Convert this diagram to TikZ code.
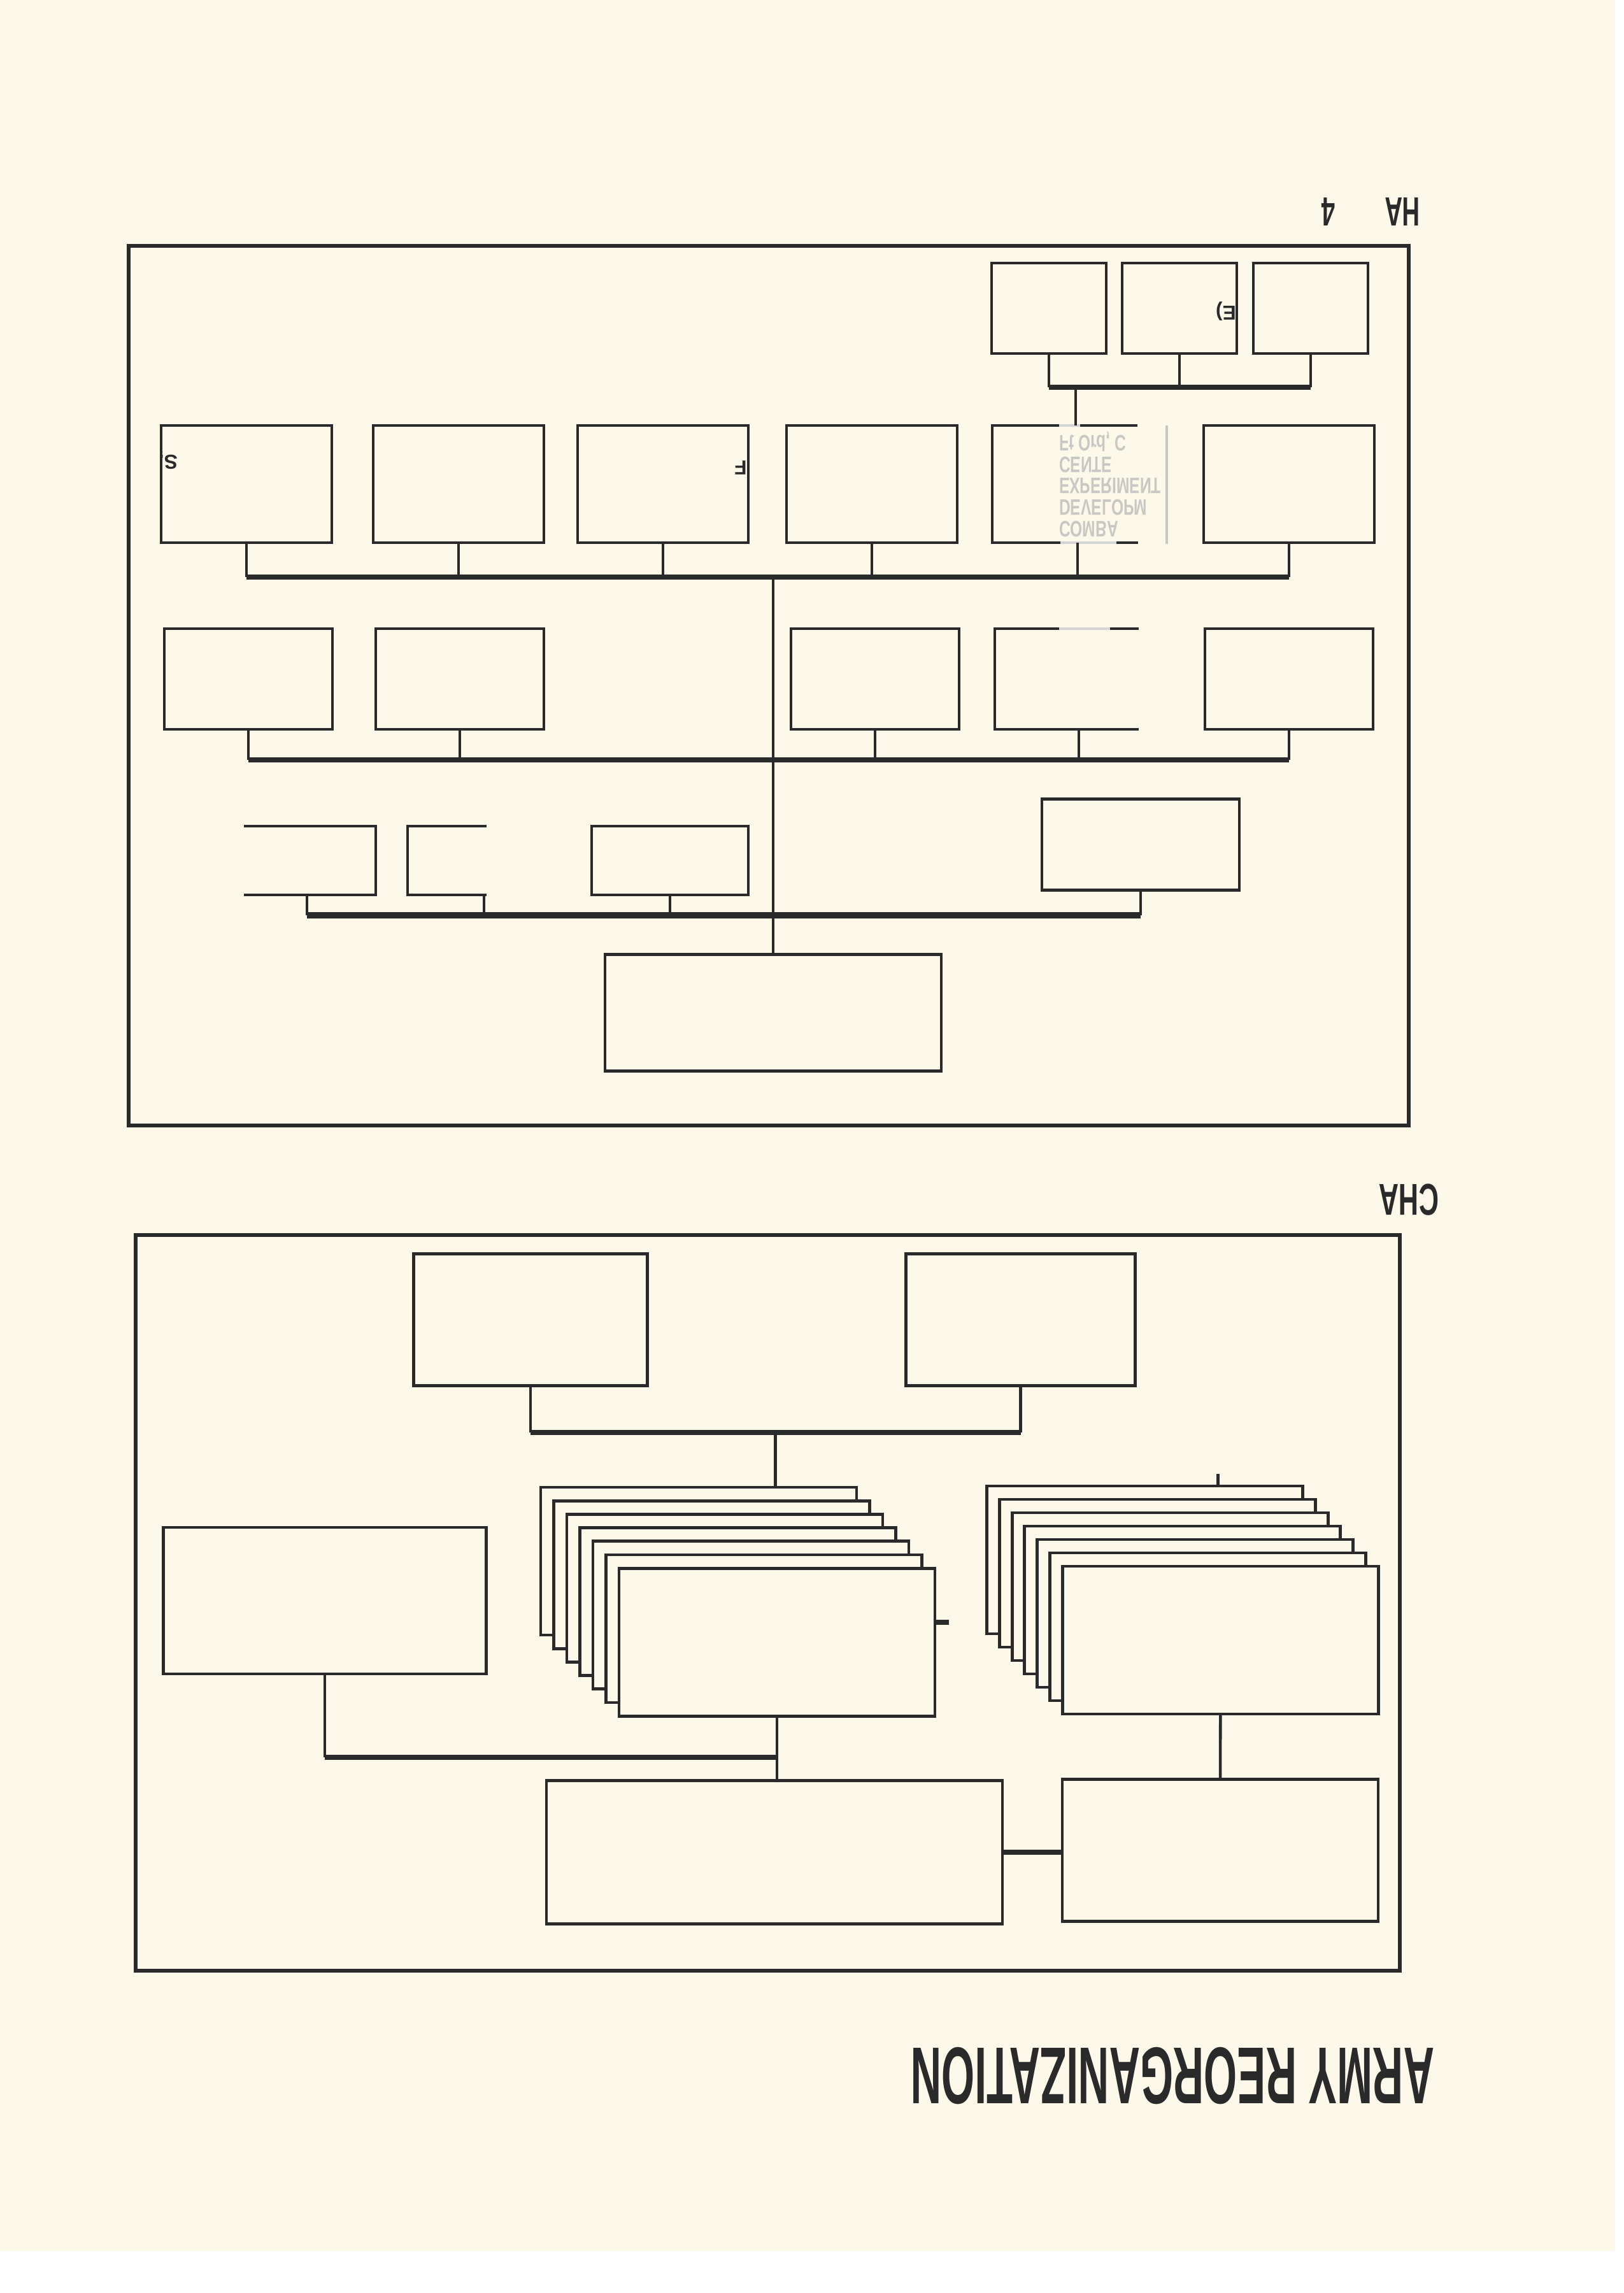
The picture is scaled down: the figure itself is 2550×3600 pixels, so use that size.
\documentclass[tikz,border=0pt]{standalone}
\usepackage{fontspec}
\setmainfont{Liberation Sans}
\usetikzlibrary{positioning,calc}
\definecolor{paper}{HTML}{FCF9EB}
\definecolor{ink}{HTML}{2A2A2A}
\definecolor{stampgrey}{HTML}{C9C9C4}

\begin{document}
\begin{tikzpicture}[x=0.1mm, y=-0.1mm,
  box/.style={draw=ink, line width=1.4pt, fill=paper, inner sep=0pt, outer sep=0pt},
  hidden/.style={inner sep=0pt, outer sep=0pt},
  rowa/.style={minimum width=18mm, minimum height=14.2mm},
  rowb/.style={minimum width=26.8mm, minimum height=18.4mm},
  rowc/.style={minimum width=26.4mm, minimum height=15.8mm},
  rowd/.style={minimum height=10.8mm},
  stackbox/.style={box, minimum width=49.6mm, minimum height=23.2mm},
  link/.style={ink, line width=1.3pt},
  bus/.style={ink, line width=2.4pt},
  frame/.style={draw=ink, line width=1.7pt},
  rim/.style={ink, line width=1.4pt},
  faint/.style={ink!20, line width=1.2pt},
  title/.style={text=ink, inner sep=0pt, rotate=180},
  scrap/.style={title, font=\bfseries\fontsize{9}{9}\selectfont}]

\fill[white] (0,0) rectangle (2550,3600);
\fill[paper] (0,0) rectangle (2536,3534);
\useasboundingbox (0,0) rectangle (2550,3600);

% upper chart
\draw[frame] (202,386) rectangle (2212,1767);
\node[title, xscale=0.6, font=\bfseries\fontsize{18.2}{18.2}\selectfont] (hdA) at (2202,333) {HA};
\node[title, xscale=0.6, font=\bfseries\fontsize{18.2}{18.2}\selectfont] (hdB) at (2086,333) {4};

\node[box, rowa] (a1) at (1647,484) {};
\node[box, rowa, right=2.5mm of a1] (a2) {};
\node[box, rowa, right=2.6mm of a2] (a3) {};
\node[scrap] (a2note) at (1925,489) {E)};
\coordinate (busA) at (0,608);
\draw[link] (a1.south) -- (a1.south |- busA);
\draw[link] (a2.south) -- (a2.south |- busA);
\draw[link] (a3.south) -- (a3.south |- busA);
\draw[bus] (a1.south |- busA) -- (a3.south |- busA);

\node[box, rowb] (b1) at (387,760) {};
\node[box, rowb, right=6.5mm of b1] (b2) {};
\node[box, rowb, right=5.3mm of b2] (b3) {};
\node[box, rowb, right=6.0mm of b3] (b4) {};
\node[hidden, rowb, right=5.5mm of b4] (b5) {};
\node[box, rowb, right=6.4mm of b5] (b6) {};
\draw[rim] ([xshift=10.5mm]b5.north west) -- (b5.north west) -- (b5.south west) -- ([xshift=10.7mm]b5.south west);
\draw[rim] ([xshift=13.8mm]b5.north west) -- ([xshift=22.8mm]b5.north west);
\draw[rim] ([xshift=19.5mm]b5.south west) -- ([xshift=22.9mm]b5.south west);
\draw[faint] ([xshift=10.5mm]b5.north west) -- ([xshift=13.8mm]b5.north west);
\draw[faint] ([xshift=10.7mm]b5.south west) -- ([xshift=19.5mm]b5.south west);
\node[scrap] (b1note) at (264,723) {S,};
\node[scrap] (b3note) at (1163,734) {F};

% show-through stamp
\coordinate (stampNE) at (1832,668);
\coordinate (stampSE) at (1832,854);
\draw[stampgrey, line width=1pt] (stampNE) -- (stampSE);
\node[hidden, text=stampgrey, anchor=north west, yscale=-1, xscale=0.7, align=left,
  font=\bfseries\fontsize{10}{9.6}\selectfont] (stamp) at (1663,843)
  {COMBA\\DEVELOPM\\EXPERIMENT\\CENTE\\Ft Ord, C};

\draw[link] (a1.south |- busA) ++(42,0) coordinate (dropA) -- (dropA |- b5.north);

\coordinate (busB) at (0,906);
\foreach \n in {b1,b2,b3,b4,b6} \draw[link] (\n.south) -- (\n.south |- busB);
\draw[link] (b5.south) -- (b5.south |- busB);
\draw[bus] (b1.south |- busB) -- (b6.south |- busB);

\node[box, rowc] (c1) at (390,1066) {};
\node[box, rowc, right=6.8mm of c1] (c2) {};
\node[box, rowc, right=38.8mm of c2] (c3) {};
\node[hidden, rowc, right=5.6mm of c3] (c4) {};
\node[box, rowc, right=6.6mm of c4] (c5) {};
\draw[rim] ([xshift=10.1mm]c4.north west) -- (c4.north west) -- (c4.south west) -- ([xshift=22.6mm]c4.south west);
\draw[rim] ([xshift=18.1mm]c4.north west) -- ([xshift=22.6mm]c4.north west);
\draw[faint] ([xshift=10.1mm]c4.north west) -- ([xshift=18.1mm]c4.north west);

\coordinate (busC) at (0,1193);
\foreach \n in {c1,c2,c3,c4,c5} \draw[link] (\n.south) -- (\n.south |- busC);
\draw[bus] (c1.south |- busC) -- (c5.south |- busC);

\node[hidden, rowd, minimum width=21.6mm] (d1) at (482,1351) {};
\node[hidden, rowd, minimum width=24mm] (d2) at (760,1351) {};
\node[box, rowd, minimum width=24.6mm] (d3) at (1052,1351) {};
\node[box, minimum width=31mm, minimum height=14.3mm] (d4) at (1791,1326) {};
\draw[rim] ([xshift=-9.9mm]d1.north) -- (d1.north east) -- (d1.south east) -- ([xshift=-9.9mm]d1.south);
\draw[rim] ([xshift=0.4mm]d2.north) -- (d2.north west) -- (d2.south west) -- ([xshift=0.4mm]d2.south);

\coordinate (busD) at (0,1437);
\foreach \n in {d1,d2,d3,d4} \draw[link] (\n.south) -- (\n.south |- busD);
\draw[bus, line width=3pt] (d1.south |- busD) -- (d4.south |- busD);

\node[box, minimum width=52.8mm, minimum height=18.3mm] (e) at (1214,1590) {};
\draw[link] (e.north) -- (e.north |- busB);

% lower chart
\draw[frame] (213,1939) rectangle (2198,3094);
\node[title, xscale=0.62, font=\bfseries\fontsize{19.9}{19.9}\selectfont] (hdC) at (2212,1884) {CHA};

\node[box, minimum width=36.7mm, minimum height=20.7mm] (f1) at (833,2072) {};
\node[box, minimum width=36mm, minimum height=20.7mm, right=40.6mm of f1] (f2) {};
\coordinate (busF) at (0,2249);
\draw[link] (f1.south) -- (f1.south |- busF);
\draw[link] (f2.south) -- (f2.south |- busF);
\draw[bus] (f1.south |- busF) -- (f2.south |- busF);

\foreach \k in {0,...,6}
  \node[stackbox] (gl\k) at ({1097+20.5*\k},{2451+21.2*\k}) {};
\foreach \k in {0,...,6}
  \node[stackbox] (gr\k) at ({1797.5+19.8*\k},{2449+21*\k}) {};

\coordinate (busFmid) at ($(f1.south |- busF)!0.5!(f2.south |- busF)$);
\draw[link] (busFmid) -- (busFmid |- gl0.north);
\coordinate (stubL) at ([xshift=2.2mm, yshift=3.1mm]gl6.east);
\draw[bus] ([yshift=3.1mm]gl6.east) -- (stubL);
\coordinate (stubR) at ([xshift=11.5mm, yshift=1.9mm]gr0.north);
\draw[link] (stubR) -- (stubR |- gr0.north);

\node[box, minimum width=50.7mm, minimum height=23mm] (h) at (510,2513) {};
\node[box, minimum width=71.6mm, minimum height=22.5mm] (i) at (1216,2908) {};
\node[box, minimum width=49.6mm, minimum height=22.3mm] (j) at (1916,2905) {};
\coordinate (busH) at (0,2759);
\draw[link] (h.south) -- (h.south |- busH);
\draw[bus] (h.south |- busH) -- (gl6.south |- busH);
\draw[link] (gl6.south) -- (gl6.south |- i.north);
\draw[link] (gr6.south) -- (j.north);
\draw[bus] (i.east) -- (i.east -| j.west);

\node[title, xscale=0.53, font=\bfseries\fontsize{36}{36}\selectfont] (headline) at (1841,3259) {ARMY REORGANIZATION};
\end{tikzpicture}
\end{document}
